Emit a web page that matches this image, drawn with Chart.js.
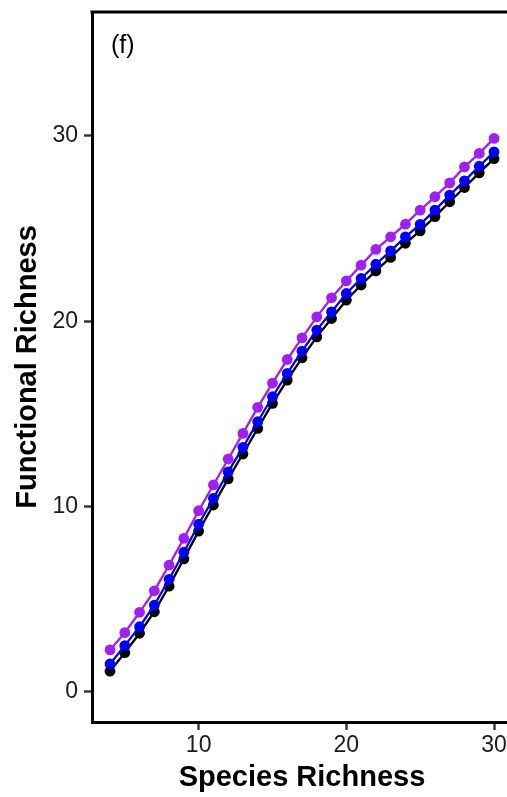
<!DOCTYPE html>
<html>
<head>
<meta charset="utf-8">
<script src="https://cdn.jsdelivr.net/npm/chart.js@4/dist/chart.umd.min.js"></script>
<style>
  html, body { margin: 0; padding: 0; background: #fff; overflow: hidden; }
  #wrap { width: 507px; height: 797px; position: relative; }
</style>
</head>
<body>
<div id="wrap"><canvas id="richness-chart"></canvas></div>
<script>
// Species richness (x) and functional richness for the three series
const speciesRichness = [4, 5, 6, 7, 8, 9, 10, 11, 12, 13, 14, 15, 16, 17, 18, 19, 20, 21, 22, 23, 24, 25, 26, 27, 28, 29, 30];
const purpleSeries = [2.27, 3.20, 4.30, 5.46, 6.85, 8.29, 9.78, 11.17, 12.57, 13.95, 15.36, 16.67, 17.94, 19.11, 20.24, 21.27, 22.18, 23.03, 23.88, 24.56, 25.24, 26.00, 26.72, 27.47, 28.33, 29.06, 29.87];
const blueSeries = [1.51, 2.50, 3.52, 4.69, 6.08, 7.54, 9.05, 10.45, 11.88, 13.20, 14.58, 15.93, 17.19, 18.39, 19.53, 20.51, 21.50, 22.31, 23.08, 23.80, 24.56, 25.23, 26.00, 26.81, 27.58, 28.37, 29.14];
const blackSeries = [1.12, 2.12, 3.17, 4.33, 5.71, 7.18, 8.68, 10.09, 11.50, 12.84, 14.22, 15.57, 16.83, 18.03, 19.16, 20.15, 21.14, 21.96, 22.72, 23.45, 24.21, 24.88, 25.65, 26.45, 27.22, 28.01, 28.78];
const xTicks = [10, 20, 30];
const yTicks = [0, 10, 20, 30];
const panelLabel = "(f)";
const xTitle = "Species Richness";
const yTitle = "Functional Richness";

const FONT = "'Liberation Sans', Arial, sans-serif";

function toPoints(ys) {
    return speciesRichness.map((x, i) => ({ x: x, y: ys[i] }));
}

function series(ys, color, order) {
    return {
        data: toPoints(ys),
        borderColor: color,
        backgroundColor: color,
        borderWidth: 2.3,
        pointRadius: 5.4,
        pointBorderWidth: 0,
        pointHoverRadius: 5.4,
        tension: 0,
        order: order,
    };
}

// no extra room around the plot for edge tick labels
function noEdgePadding(scale) {
    scale.paddingLeft = 0;
    scale.paddingRight = 0;
    scale.paddingTop = 0;
    scale.paddingBottom = 0;
}

// Top frame line, axis titles and panel letter
const decorations = {
    id: "decorations",
    afterDraw(chart) {
        const { ctx, chartArea } = chart;
        ctx.save();
        ctx.strokeStyle = "#000";
        ctx.lineWidth = 3;
        ctx.beginPath();
        ctx.moveTo(chartArea.left - 1.5, chartArea.top);
        ctx.lineTo(chart.width, chartArea.top);
        ctx.stroke();

        ctx.fillStyle = "#000";
        ctx.font = "25px " + FONT;
        ctx.textAlign = "left";
        ctx.textBaseline = "middle";
        ctx.fillText(panelLabel, 111, 46);

        ctx.font = "bold 29px " + FONT;
        ctx.textAlign = "center";
        ctx.fillText(xTitle, 302, 778);

        ctx.translate(28, 367);
        ctx.rotate(-Math.PI / 2);
        ctx.fillText(yTitle, 0, 0);
        ctx.restore();
    },
};

const ctx = document.getElementById("richness-chart").getContext("2d");
new Chart(ctx, {
    type: "line",
    data: {
        datasets: [
            series(purpleSeries, "#A020F0", 1),
            series(blueSeries, "#0000FF", 2),
            series(blackSeries, "#000000", 3),
        ],
    },
    options: {
        responsive: true,
        maintainAspectRatio: false,
        animation: false,
        layout: { autoPadding: false, padding: { top: 12, right: 0, left: 0, bottom: 0 } },
        plugins: {
            legend: { display: false },
            tooltip: { enabled: false },
        },
        scales: {
            x: {
                type: "linear",
                min: 2.78,
                max: 30.88,
                afterBuildTicks: (scale) => { scale.ticks = xTicks.map(v => ({ value: v })); },
                afterFit: (scale) => { scale.height = 75; noEdgePadding(scale); },
                border: { display: true, color: "#000", width: 3 },
                grid: {
                    drawOnChartArea: false,
                    drawTicks: true,
                    tickLength: 8,
                    tickColor: "#333",
                    tickWidth: 2.4,
                },
                ticks: {
                    color: "#1a1a1a",
                    font: { family: FONT, size: 23 },
                    padding: 2,
                    maxRotation: 0,
                    autoSkip: false,
                },
            },
            y: {
                type: "linear",
                min: -1.62,
                max: 36.69,
                afterBuildTicks: (scale) => { scale.ticks = yTicks.map(v => ({ value: v })); },
                afterFit: (scale) => { scale.width = 92; noEdgePadding(scale); },
                border: { display: true, color: "#000", width: 3 },
                grid: {
                    drawOnChartArea: false,
                    drawTicks: true,
                    tickLength: 8,
                    tickColor: "#333",
                    tickWidth: 2.4,
                },
                ticks: {
                    color: "#1a1a1a",
                    font: { family: FONT, size: 23 },
                    padding: 6,
                },
            },
        },
    },
    plugins: [decorations],
});
</script>
</body>
</html>
